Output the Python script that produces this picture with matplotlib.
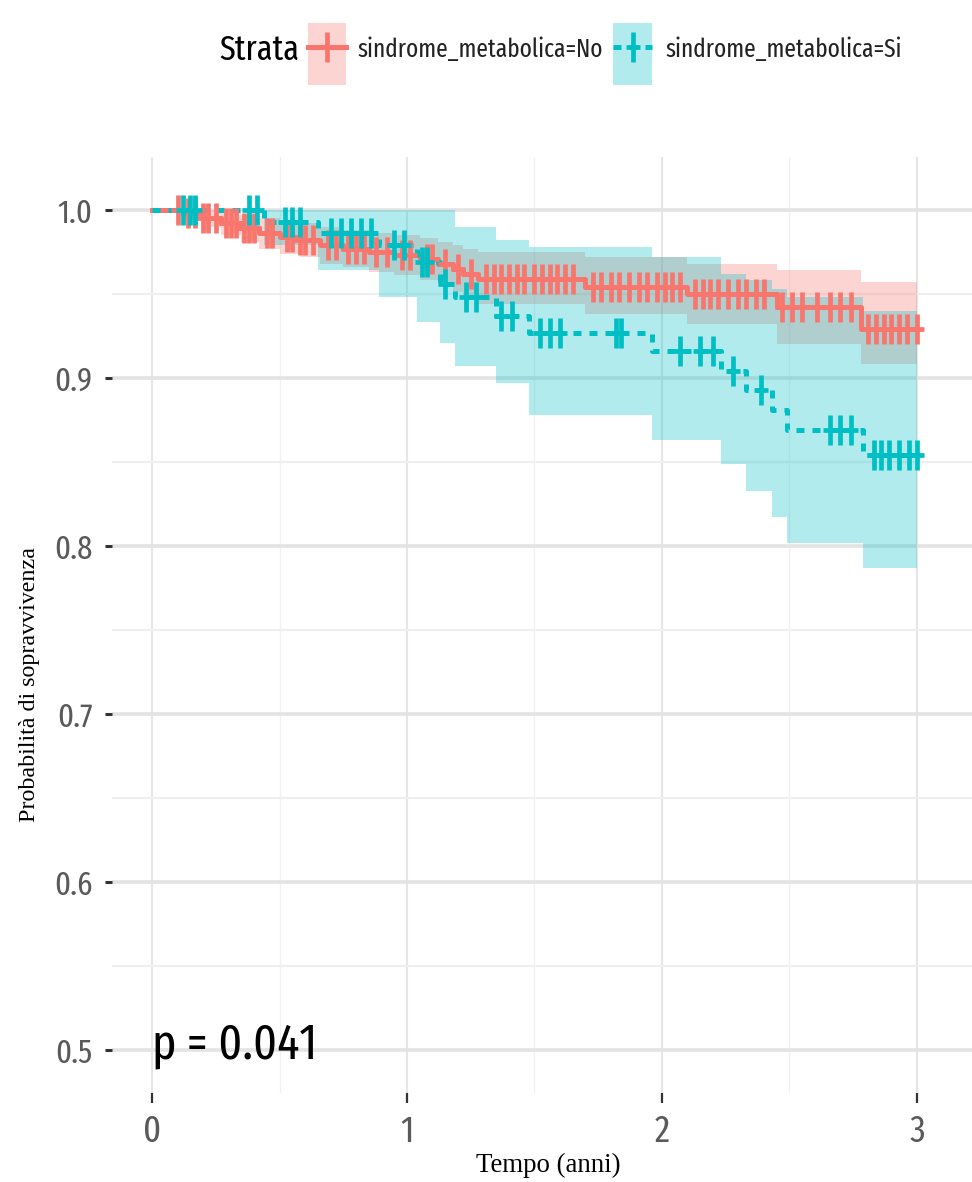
import os
import re
import numpy as np
import matplotlib
matplotlib.use("Agg")
import matplotlib.pyplot as plt
from matplotlib.path import Path
from matplotlib import font_manager as fm
from matplotlib.patches import Rectangle
from matplotlib.lines import Line2D

# ---------------- data ----------------
strata_title = "Strata"
strata_labels = ["sindrome_metabolica=No", "sindrome_metabolica=Si"]
strata_colors = ["#F8766D", "#00BFC4"]
x_label = "Tempo (anni)"
y_label = "Probabilità di sopravvivenza"
p_text = "p = 0.041"
x_ticks = [0, 1, 2, 3]
y_ticks = [0.5, 0.6, 0.7, 0.8, 0.9, 1.0]
y_tick_labels = ["0.5", "0.6", "0.7", "0.8", "0.9", "1.0"]
end_time = 3.0

no_time = [0.00, 0.12, 0.20, 0.27, 0.35, 0.42, 0.50, 0.58, 0.66, 0.75, 0.85,
           0.95, 1.05, 1.12, 1.18, 1.22, 1.28, 1.70, 2.10, 2.45, 2.78]
no_surv = [1.000, 0.998, 0.995, 0.992, 0.989, 0.986, 0.984, 0.982, 0.979, 0.977, 0.975,
           0.973, 0.971, 0.968, 0.965, 0.962, 0.959, 0.954, 0.950, 0.942, 0.929]
no_upper = [1.000, 1.000, 1.000, 0.999, 0.997, 0.995, 0.994, 0.992, 0.990, 0.988, 0.986,
            0.985, 0.983, 0.981, 0.979, 0.977, 0.975, 0.972, 0.968, 0.964, 0.957]
no_lower = [1.000, 0.994, 0.990, 0.985, 0.981, 0.977, 0.974, 0.972, 0.968, 0.966, 0.963,
            0.961, 0.958, 0.955, 0.951, 0.948, 0.944, 0.938, 0.932, 0.920, 0.908]
no_censor = [0.10, 0.14, 0.17, 0.20, 0.22, 0.25, 0.29, 0.31, 0.33, 0.36, 0.38, 0.40,
             0.45, 0.47, 0.53, 0.55, 0.58, 0.60, 0.63, 0.69, 0.72, 0.77, 0.80, 0.83,
             0.88, 0.92, 0.98, 1.01, 1.08, 1.10, 1.15, 1.20, 1.25, 1.31, 1.34, 1.37,
             1.40, 1.43, 1.46, 1.50, 1.53, 1.56, 1.59, 1.62, 1.65, 1.73, 1.76, 1.80,
             1.83, 1.87, 1.91, 1.94, 1.98, 2.01, 2.04, 2.07, 2.13, 2.16, 2.19, 2.22,
             2.26, 2.30, 2.33, 2.37, 2.40, 2.47, 2.51, 2.55, 2.61, 2.66, 2.70, 2.74,
             2.81, 2.84, 2.87, 2.90, 2.93, 2.96, 3.00]

si_time = [0.00, 0.44, 0.65, 0.89, 1.04, 1.13, 1.19, 1.35, 1.48, 1.96, 2.23, 2.33,
           2.43, 2.49, 2.79]
si_surv = [1.000, 0.993, 0.986, 0.979, 0.969, 0.956, 0.948, 0.937, 0.927, 0.916, 0.904,
           0.893, 0.881, 0.869, 0.854]
si_upper = [1.000, 1.000, 1.000, 1.000, 1.000, 1.000, 0.990, 0.982, 0.978, 0.972, 0.962,
            0.958, 0.953, 0.948, 0.940]
si_lower = [1.000, 0.979, 0.964, 0.948, 0.933, 0.921, 0.907, 0.897, 0.878, 0.863, 0.849,
            0.833, 0.817, 0.802, 0.787]
si_censor = [0.12, 0.15, 0.17, 0.38, 0.41, 0.52, 0.55, 0.58, 0.70, 0.74, 0.78, 0.82,
             0.86, 0.95, 0.99, 1.06, 1.08, 1.15, 1.23, 1.27, 1.37, 1.41, 1.52, 1.56,
             1.60, 1.82, 1.84, 2.07, 2.15, 2.20, 2.28, 2.39, 2.66, 2.70, 2.74, 2.83,
             2.86, 2.89, 2.93, 2.97, 3.00]


# ---------------- fonts ----------------
def find_condensed():
    weights = ("bold", "italic", "light", "thin", "medium", "black", "heavy",
               "oblique", "book", "demi")
    best = None
    best_score = -1
    fam_pref = ["liberation", "noto", "roboto", "open", "lato", "inter", "dejavu"]
    for f in fm.fontManager.ttflist:
        base = os.path.basename(f.fname).lower()
        if not ("narrow" in base or "condensed" in base):
            continue
        if "mono" in base or "serif" in base or "cjk" in base:
            continue
        stripped = re.sub(r"(extra|semi|ultra)?condensed|narrow|regular", "", base)
        if any(w in stripped for w in weights):
            continue
        score = 0
        if "extracondensed" in base:
            score += 30
        elif "semicondensed" in base:
            score += 10
        elif "condensed" in base or "narrow" in base:
            score += 25
        for i, p in enumerate(fam_pref):
            if base.startswith(p) or p in f.name.lower():
                score += (len(fam_pref) - i)
                break
        if score > best_score:
            best, best_score = f.fname, score
    return best


cond_path = find_condensed()
if cond_path:
    narrow_fp = fm.FontProperties(fname=cond_path)
else:
    narrow_fp = fm.FontProperties(family=["Liberation Sans", "DejaVu Sans"])
serif_fp = fm.FontProperties(family=["Liberation Serif", "DejaVu Serif"])

W, H = 972, 1182
fig = plt.figure(figsize=(W / 100, H / 100), dpi=100)
fig.patch.set_facecolor("white")
renderer = fig.canvas.get_renderer()


def fit(s, fp, target_w, max_pt):
    f2 = fp.copy()
    f2.set_size(100)
    t = fig.text(0, 0, s, fontproperties=f2)
    w = t.get_window_extent(renderer).width
    t.remove()
    size = min(100.0 * target_w / w, max_pt)
    out = fp.copy()
    out.set_size(size)
    return out


# panel pixel bounds
px_left, px_right, px_top, px_bottom = 112, 972, 157, 1093
ax = fig.add_axes([px_left / W, 1 - px_bottom / H,
                   (px_right - px_left) / W, (px_bottom - px_top) / H])
ax.set_facecolor("white")
for s in ax.spines.values():
    s.set_visible(False)

ax.set_xlim(-0.157, 3.216)
ax.set_ylim(0.4744, 1.0315)

# grid
ax.set_xticks(x_ticks)
ax.set_xticks([0.5, 1.5, 2.5], minor=True)
ax.set_yticks(y_ticks)
ax.set_yticks([0.55, 0.65, 0.75, 0.85, 0.95], minor=True)
ax.xaxis.grid(True, which="major", color="#E6E6E6", lw=1.5)
ax.xaxis.grid(True, which="minor", color="#F1F1F1", lw=1.0)
ax.yaxis.grid(True, which="major", color="#E3E3E3", lw=2.6)
ax.yaxis.grid(True, which="minor", color="#EFEFEF", lw=1.6)
ax.set_axisbelow(True)

ax.set_yticklabels(y_tick_labels)
ax.tick_params(axis="y", which="major", length=5, width=2.2, color="#333333",
               pad=9, labelcolor="#5A5A5A")
ax.tick_params(axis="x", which="major", length=7, width=1.6, color="#333333",
               pad=8, labelcolor="#5A5A5A")
ax.tick_params(which="minor", length=0)
ytick_fp = fit("0.9", narrow_fp, 44, 24)
xtick_fp = fit("0", narrow_fp, 20, 27)
for lab in ax.get_yticklabels():
    lab.set_fontproperties(ytick_fp)
for lab in ax.get_xticklabels():
    lab.set_fontproperties(xtick_fp)

# tall '+' marker
plus = Path([(-0.45, 0), (0.45, 0), (0, -1), (0, 1)],
            [Path.MOVETO, Path.LINETO, Path.MOVETO, Path.LINETO])


def step_arrays(t, v):
    return list(t) + [end_time], list(v) + [v[-1]]


def censor_y(t, v, c):
    t = np.asarray(t)
    v = np.asarray(v)
    idx = np.searchsorted(t, np.asarray(c), side="right") - 1
    return v[idx]


dash = (0, (1.6, 1.6))
groups = [
    (no_time, no_surv, no_upper, no_lower, no_censor, strata_colors[0], "-"),
    (si_time, si_surv, si_upper, si_lower, si_censor, strata_colors[1], dash),
]

for t, v, up, lo, c, col, ls in groups:
    tx, upx = step_arrays(t, up)
    _, lox = step_arrays(t, lo)
    ax.fill_between(tx, lox, upx, step="post", color=col, alpha=0.3, lw=0, zorder=1)

for t, v, up, lo, c, col, ls in groups:
    tx, vx = step_arrays(t, v)
    ax.step(tx, vx, where="post", color=col, lw=3.6, linestyle=ls, zorder=3)

for t, v, up, lo, c, col, ls in groups:
    ax.plot(c, censor_y(t, v, c), linestyle="none", marker=plus, markersize=21,
            markeredgewidth=3.4, color=col, zorder=4)

ax.text(0.0, 0.503, p_text, ha="left", va="center",
        fontproperties=fit(p_text, narrow_fp, 165, 48), color="black", zorder=5)

# axis titles
fig.text(548 / W, 1 - 1165 / H, x_label, ha="center", va="center",
         fontproperties=fit(x_label, serif_fp, 145, 20), color="black")
fig.text(30 / W, 1 - 685 / H, y_label, ha="center", va="center", rotation=90,
         fontproperties=fit(y_label, serif_fp, 275, 18), color="black")

# legend (top)
ly = 1 - 50 / H
fig.text(219 / W, ly, strata_title, ha="left", va="center",
         fontproperties=fit(strata_title, narrow_fp, 80, 33), color="black")
key_x = [(308, 346), (613, 652)]
text_x = [357, 665]
lab_fp = fit(strata_labels[0], narrow_fp, 246, 28)
for (x0, x1), tx, lab, col, ls in zip(key_x, text_x, strata_labels, strata_colors,
                                      ["-", dash]):
    fig.add_artist(Rectangle((x0 / W, 1 - 85 / H), (x1 - x0) / W, 62 / H,
                             transform=fig.transFigure, facecolor=col, alpha=0.3,
                             edgecolor="none"))
    fig.add_artist(Line2D([x0 / W, x1 / W], [1 - 47 / H, 1 - 47 / H],
                          transform=fig.transFigure, color=col, lw=3.6, linestyle=ls))
    fig.add_artist(Line2D([(x0 + x1) / 2 / W], [1 - 47 / H], transform=fig.transFigure,
                          color=col, marker=plus, markersize=21, markeredgewidth=3.4,
                          linestyle="none"))
    fig.text(tx / W, ly, lab, ha="left", va="center", fontproperties=lab_fp,
             color="#222222")

fig.savefig("out.png", dpi=100, facecolor="white")
